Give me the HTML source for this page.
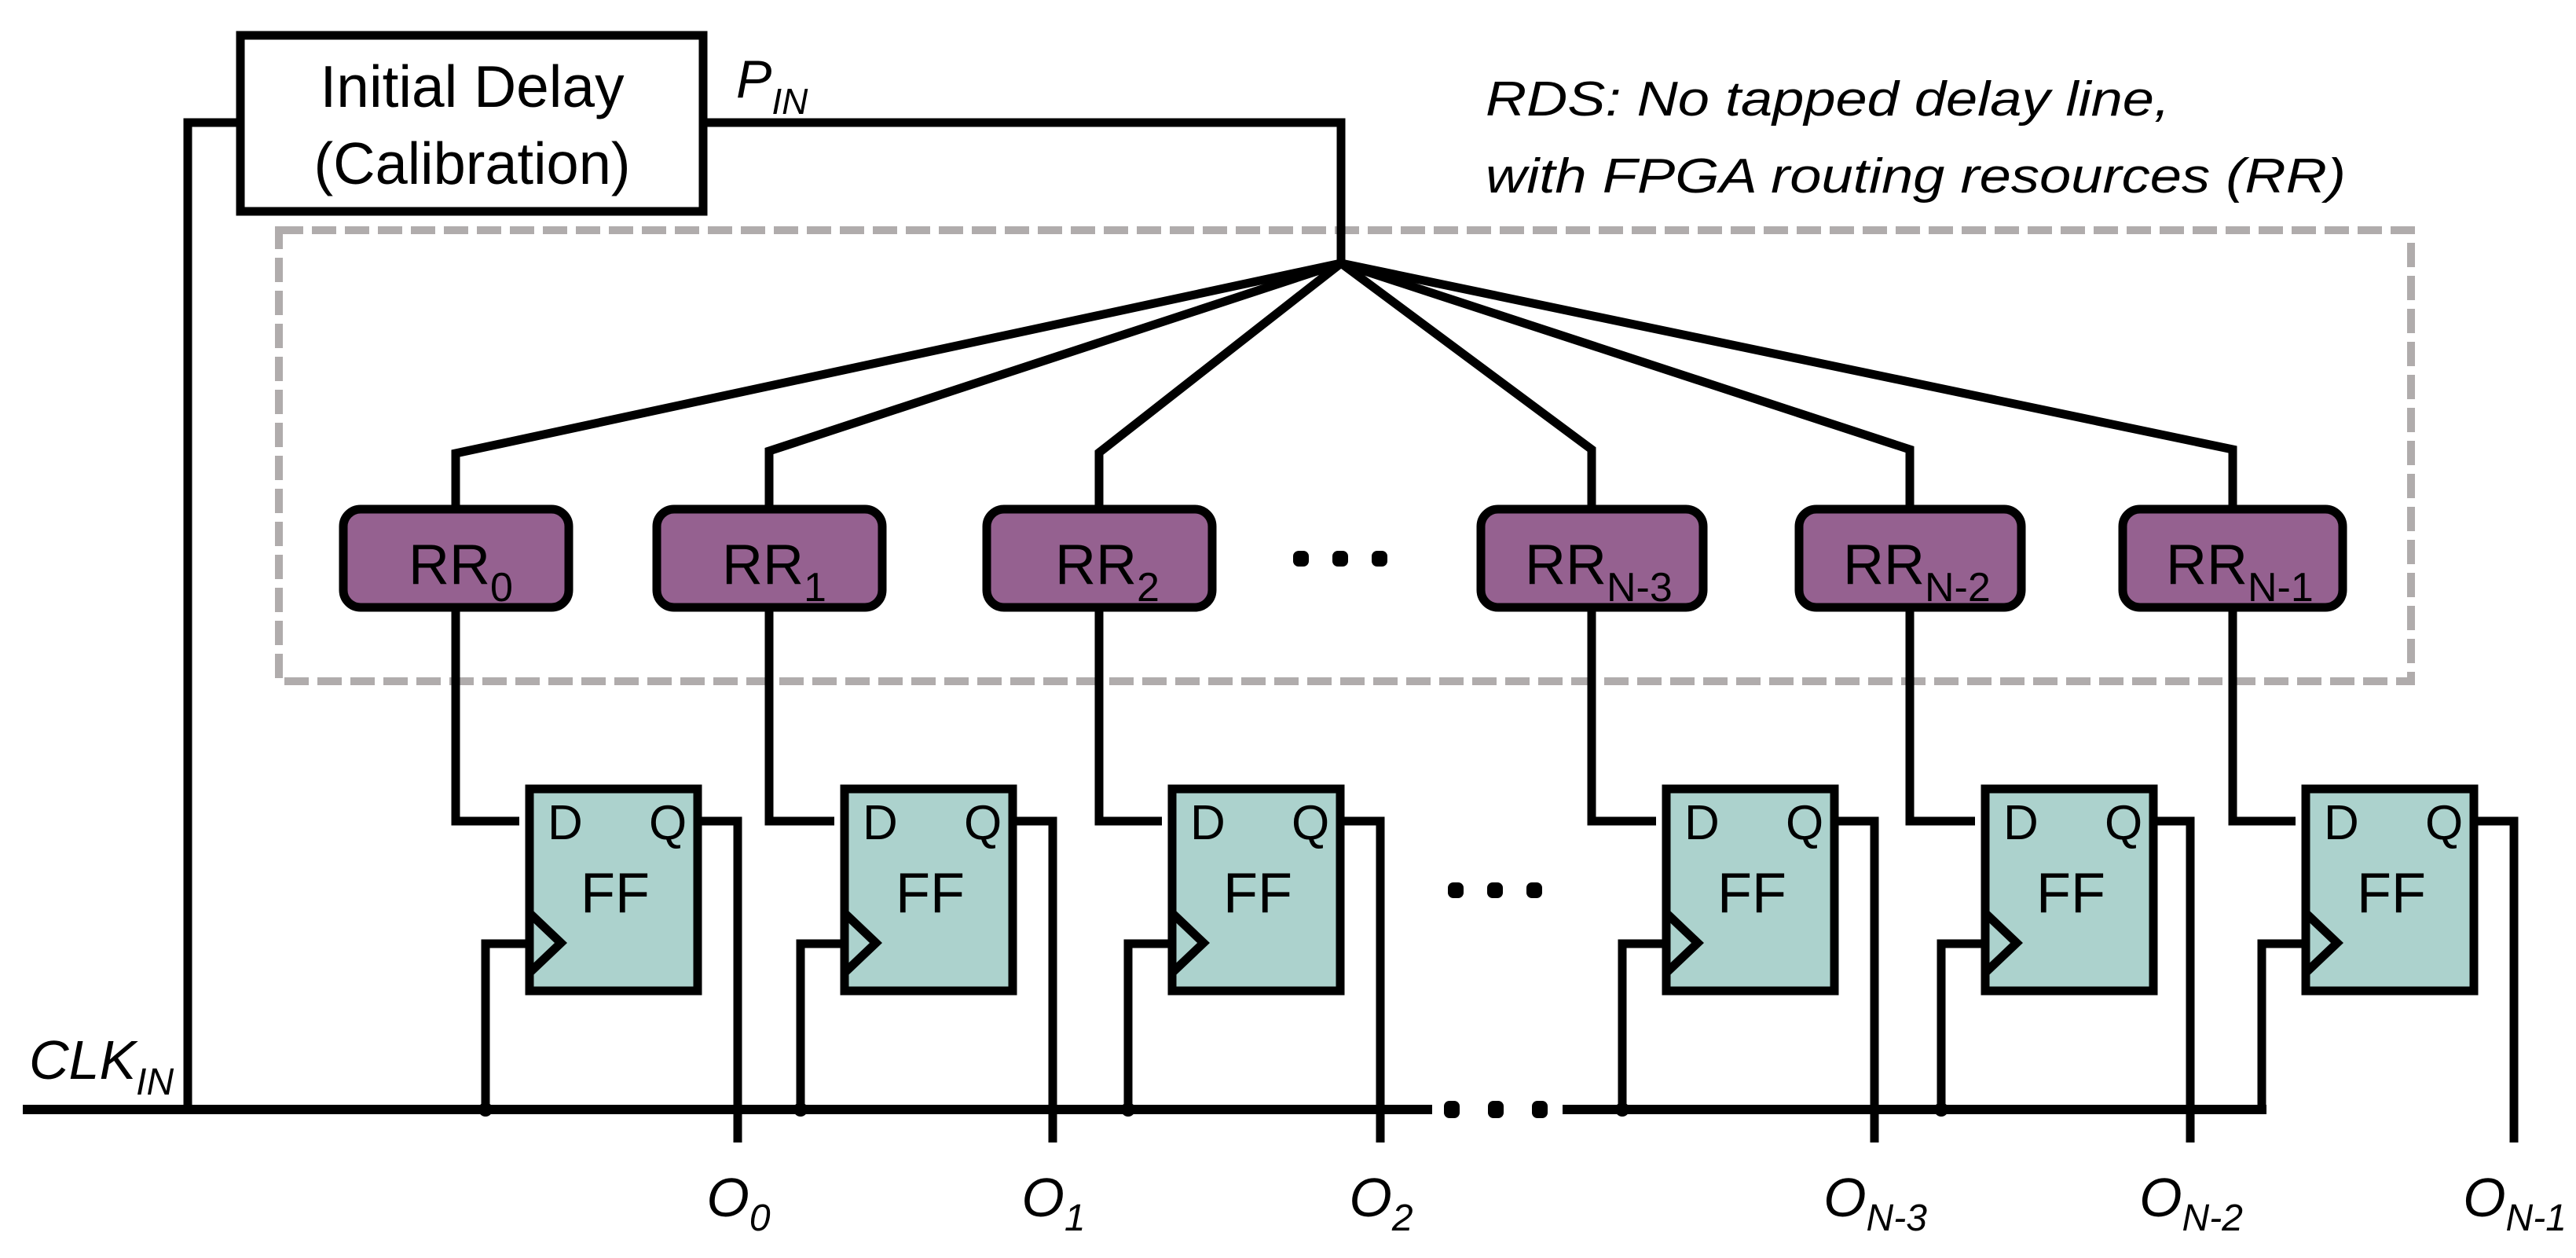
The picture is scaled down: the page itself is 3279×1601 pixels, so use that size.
<!DOCTYPE html>
<html><head><meta charset="utf-8"><style>
html,body{margin:0;padding:0;background:#fff;}
svg{display:block;}
text{font-family:"Liberation Sans",sans-serif;fill:#000;}
</style></head><body>
<svg width="3279" height="1601" viewBox="0 0 3279 1601" xmlns="http://www.w3.org/2000/svg">
<rect x="355" y="293" width="2714" height="574" fill="none" stroke="#b0acac" stroke-width="10" stroke-dasharray="31,11"/>

<g stroke="#000" stroke-width="11" fill="none" stroke-linejoin="miter">
  <rect x="306" y="45" width="589" height="224" fill="#fff"/>
  <polyline points="301,156 239,156 239,1412"/>
  <polyline points="900,156 1707,156 1707,335"/>
  <polyline points="1707,335 580,577 580,643"/>
  <polyline points="1707,335 979,574 979,643"/>
  <polyline points="1707,335 1399,576 1399,643"/>
  <polyline points="1707,335 2026,572 2026,643"/>
  <polyline points="1707,335 2431,572 2431,643"/>
  <polyline points="1707,335 2842,572 2842,643"/>
  <polyline points="580,778 580,1045 661,1045"/>
  <polyline points="979,778 979,1045 1062,1045"/>
  <polyline points="1399,778 1399,1045 1479,1045"/>
  <polyline points="2026,778 2026,1045 2108,1045"/>
  <polyline points="2431,778 2431,1045 2514,1045"/>
  <polyline points="2842,778 2842,1045 2922,1045"/>
  <polyline points="893,1045 939,1045 939,1454"/>
  <polyline points="1294,1045 1340,1045 1340,1454"/>
  <polyline points="1711,1045 1757,1045 1757,1454"/>
  <polyline points="2340,1045 2386,1045 2386,1454"/>
  <polyline points="2746,1045 2788,1045 2788,1454"/>
  <polyline points="3154,1045 3200,1045 3200,1454"/>
  <polyline points="618,1412 618,1201 669,1201"/>
  <polyline points="1019,1412 1019,1201 1070,1201"/>
  <polyline points="1436,1412 1436,1201 1487,1201"/>
  <polyline points="2065,1412 2065,1201 2116,1201"/>
  <polyline points="2471,1412 2471,1201 2522,1201"/>
  <polyline points="2879,1412 2879,1201 2930,1201"/>
</g>
<g stroke="#000" stroke-width="12">
  <line x1="29" y1="1412" x2="1823" y2="1412"/>
  <line x1="1989" y1="1412" x2="2885" y2="1412"/>
</g>
<g fill="#000">
  <circle cx="618" cy="1412" r="9"/><circle cx="1019" cy="1412" r="9"/><circle cx="1436" cy="1412" r="9"/>
  <circle cx="2065" cy="1412" r="9"/><circle cx="2471" cy="1412" r="9"/>
  <rect x="1646" y="701" width="20" height="20" rx="7"/><rect x="1696" y="701" width="20" height="20" rx="7"/><rect x="1746" y="701" width="20" height="20" rx="7"/>
  <rect x="1843" y="1123" width="20" height="20" rx="7"/><rect x="1893" y="1123" width="20" height="20" rx="7"/><rect x="1943" y="1123" width="20" height="20" rx="7"/>
  <rect x="1838" y="1401" width="20" height="22" rx="7"/><rect x="1894" y="1401" width="20" height="22" rx="7"/><rect x="1950" y="1401" width="20" height="22" rx="7"/>
</g>

<g fill="#956190" stroke="#000" stroke-width="11">
  <rect x="437" y="648" width="287" height="125" rx="22"/>
  <rect x="836" y="648" width="287" height="125" rx="22"/>
  <rect x="1256" y="648" width="287" height="125" rx="22"/>
  <rect x="1885" y="648" width="283" height="125" rx="22"/>
  <rect x="2290" y="648" width="283" height="125" rx="22"/>
  <rect x="2702" y="648" width="280" height="125" rx="22"/>
</g>
<g font-size="72">
  <text x="520" y="743">RR<tspan font-size="52" dy="22">0</tspan></text>
  <text x="919" y="743">RR<tspan font-size="52" dy="22">1</tspan></text>
  <text x="1343" y="743">RR<tspan font-size="52" dy="22">2</tspan></text>
  <text x="1941" y="743">RR<tspan font-size="52" dy="22">N-3</tspan></text>
  <text x="2346" y="743">RR<tspan font-size="52" dy="22">N-2</tspan></text>
  <text x="2757" y="743">RR<tspan font-size="52" dy="22">N-1</tspan></text>
</g>

<g fill="#acd2cd" stroke="#000" stroke-width="11">
  <rect x="674" y="1004" width="214" height="257"/>
  <rect x="1075" y="1004" width="214" height="257"/>
  <rect x="1492" y="1004" width="214" height="257"/>
  <rect x="2121" y="1004" width="214" height="257"/>
  <rect x="2527" y="1004" width="214" height="257"/>
  <rect x="2935" y="1004" width="214" height="257"/>
</g>
<g fill="none" stroke="#000" stroke-width="11">
  <polyline points="674,1162 714,1200 674,1238"/>
  <polyline points="1075,1162 1115,1200 1075,1238"/>
  <polyline points="1492,1162 1532,1200 1492,1238"/>
  <polyline points="2121,1162 2161,1200 2121,1238"/>
  <polyline points="2527,1162 2567,1200 2527,1238"/>
  <polyline points="2935,1162 2975,1200 2935,1238"/>
</g>
<g font-size="62">
  <text x="697" y="1068">D</text><text x="826" y="1068">Q</text>
  <text x="1098" y="1068">D</text><text x="1227" y="1068">Q</text>
  <text x="1515" y="1068">D</text><text x="1644" y="1068">Q</text>
  <text x="2144" y="1068">D</text><text x="2273" y="1068">Q</text>
  <text x="2550" y="1068">D</text><text x="2679" y="1068">Q</text>
  <text x="2958" y="1068">D</text><text x="3087" y="1068">Q</text>
</g>
<g font-size="72" text-anchor="middle">
  <text x="783" y="1161">FF</text><text x="1184" y="1161">FF</text><text x="1601" y="1161">FF</text>
  <text x="2230" y="1161">FF</text><text x="2636" y="1161">FF</text><text x="3044" y="1161">FF</text>
</g>

<text x="601" y="136" font-size="75" text-anchor="middle" textLength="387" lengthAdjust="spacingAndGlyphs">Initial Delay</text>
<text x="601" y="234" font-size="75" text-anchor="middle" textLength="403" lengthAdjust="spacingAndGlyphs">(Calibration)</text>
<text x="937" y="124" font-size="68" font-style="italic">P<tspan font-size="46" dy="21">IN</tspan></text>
<text x="37" y="1373" font-size="70" font-style="italic">CLK<tspan font-size="48" dy="20">IN</tspan></text>
<text x="1891" y="147" font-size="62" font-style="italic" textLength="871" lengthAdjust="spacingAndGlyphs">RDS: No tapped delay line,</text>
<text x="1891" y="245" font-size="62" font-style="italic" textLength="1095" lengthAdjust="spacingAndGlyphs">with FPGA routing resources (RR)</text>
<g font-size="70" font-style="italic" text-anchor="middle">
  <text x="940" y="1548">O<tspan font-size="48" dy="18">0</tspan></text>
  <text x="1341" y="1548">O<tspan font-size="48" dy="18">1</tspan></text>
  <text x="1758" y="1548">O<tspan font-size="48" dy="18">2</tspan></text>
  <text x="2387" y="1548">O<tspan font-size="48" dy="18">N-3</tspan></text>
  <text x="2789" y="1548">O<tspan font-size="48" dy="18">N-2</tspan></text>
  <text x="3201" y="1548">O<tspan font-size="48" dy="18">N-1</tspan></text>
</g>
</svg>
</body></html>
